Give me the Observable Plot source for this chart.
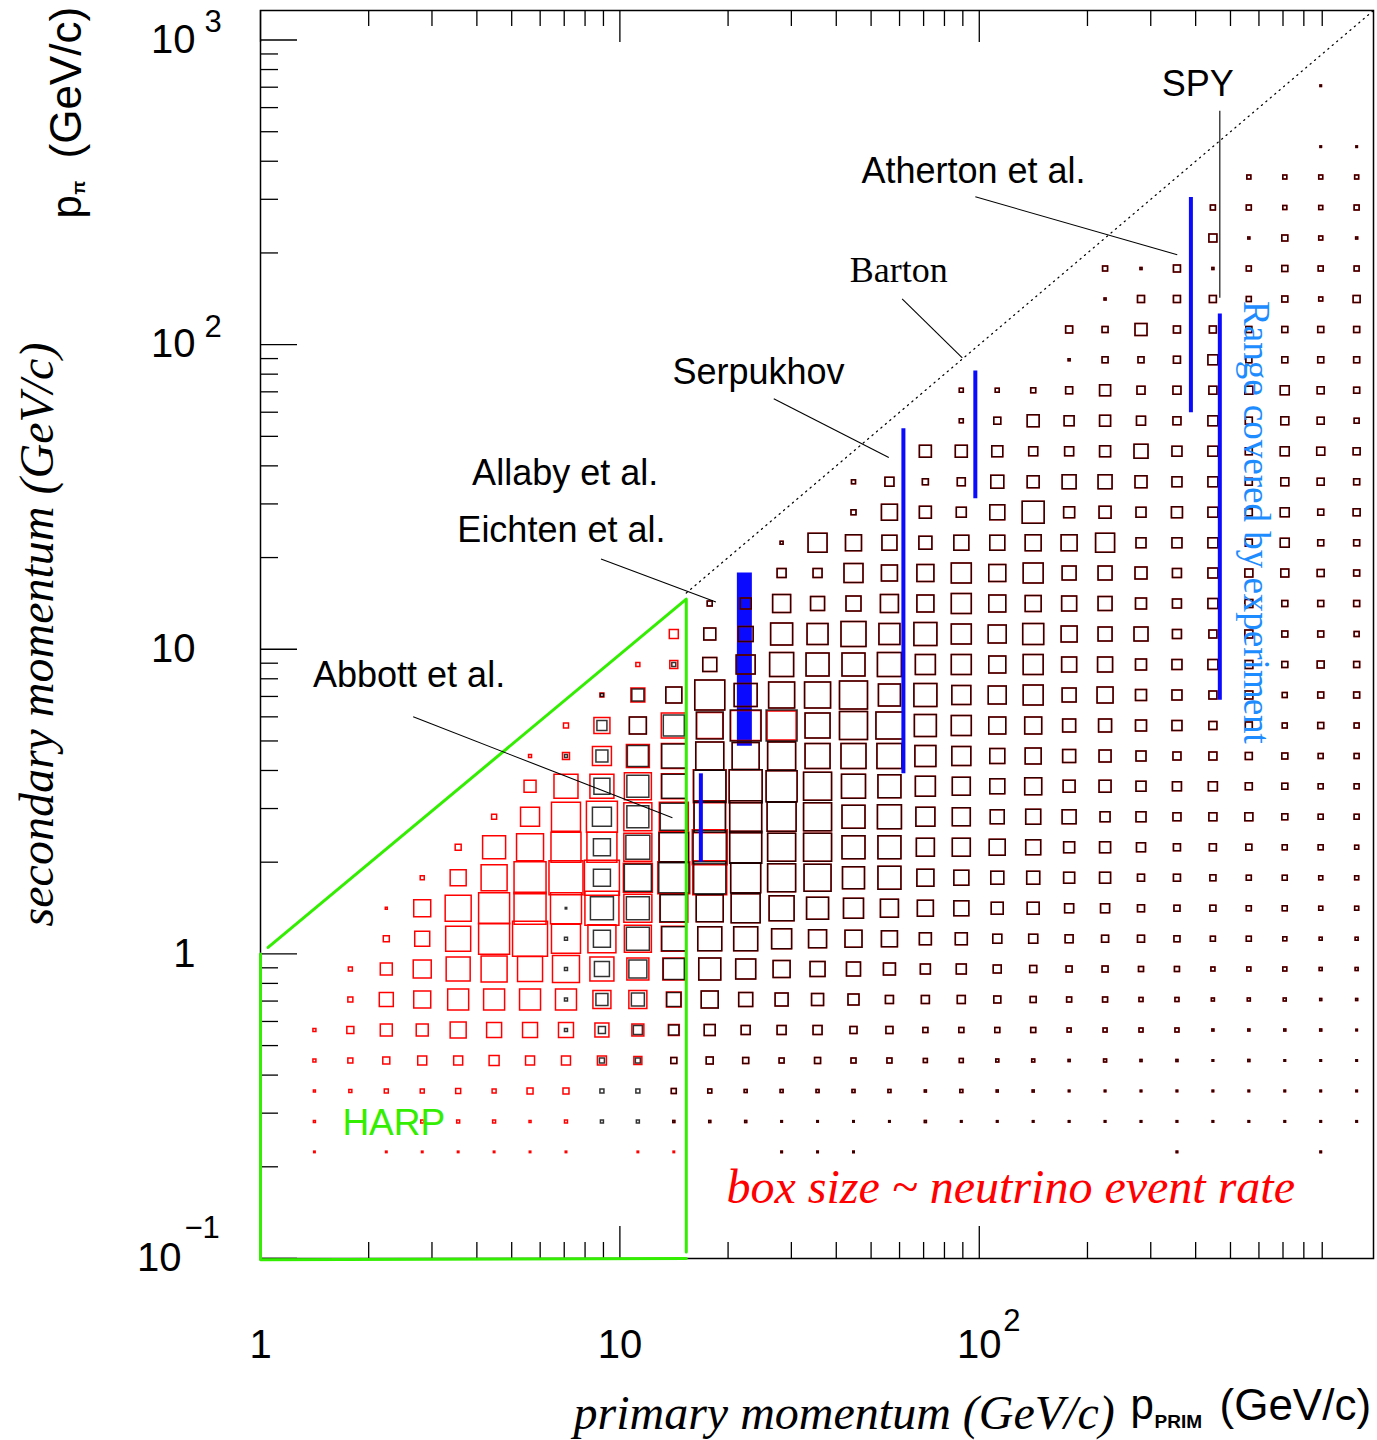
<!DOCTYPE html>
<html><head><meta charset="utf-8">
<script src="https://cdn.jsdelivr.net/npm/d3@7"></script>
<script src="https://cdn.jsdelivr.net/npm/@observablehq/plot@0.6"></script>
<style>html,body{margin:0;padding:0;background:#fff;} #chart svg{display:block;}</style>
</head><body><div id="chart"></div>
<script>
// ---------------- DATA ----------------
// histogram bins: 0.1-decade bins; columns = primary momentum, rows = secondary momentum
const xColumnLog = d3.range(31).map(i => 0.05 + 0.1 * i);   // log10 of bin centres (GeV/c)
const yRowLog = d3.range(36).map(k => -0.65 + 0.1 * k);

// box size (neutrino event rate, arbitrary units); rows k = 0..17 from the bottom, columns i = 0..30
const redLowerRows = [
  "0 1.5 0 1.5 1.5 1.5 1.5 1.5 1.5 0 1.5 | 1.5 0 0 1.5 1.5 1.5 0 0 0 0 | 0 0 0 0 1.5 0 0 0 1.5 0",
  "0 2 0 0 3 3 3 2 3 0 0 | 2 2 2 1.5 1.5 1.5 1.5 2 1.5 1.5 | 1.5 1.5 1.5 1.5 1.5 1.5 1.5 1.5 1.5 1.5",
  "0 2 3 4 4 5 4 6 6 0 0 | 5 4 3 3 3 3 3 2 3 2 | 2 1.5 1.5 1.5 1.5 1.5 1.5 1.5 1.5 1.5",
  "0 3 5 7 9 9 10 9 9 9 8 | 6 7 6 5 6 5 5 4 4 3 | 3 2 3 2 2 1.5 2 1.5 1.5 1.5",
  "0 3 7 12 12 16 15 15 15 14 12 | 11 11 9 9 9 7 7 5 5 5 | 5 4 4 4 4 2 2 2 2 1.5",
  "0 0 5 14 17 21 21 21 21 18 18 | 15 17 14 13 12 11 8 8 8 7 | 6 5 5 4 4 3 3 3 2 2",
  "0 0 4 12 18 24 26 25 27 24 22 | 22 22 20 17 15 14 12 10 10 8 | 7 6 6 5 5 4 4 4 3 3",
  "0 0 0 6 15 25 31 35 29 28 27 | 25 24 24 20 18 17 16 12 12 9 | 9 8 7 7 6 5 5 4 3 3",
  "0 0 0 2 17 26 31 32 31 34 28 | 28 27 29 25 22 20 18 16 15 12 | 12 9 9 7 6 6 5 5 4 4",
  "0 0 0 0 4 16 26 32 34 35 29 | 32 34 30 28 27 22 23 17 15 13 | 13 11 11 7 7 6 5 5 4 4",
  "0 0 0 0 0 6 23 27 30 30 28 | 30 35 32 28 28 23 23 18 18 16 | 15 11 11 9 7 7 6 5 5 4",
  "0 0 0 0 0 0 5 19 29 31 28 | 29 32 32 29 28 23 24 19 18 14 | 15 14 10 10 8 8 8 6 5 5",
  "0 0 0 0 0 0 0 12 24 24 27 | 25 33 33 31 28 24 23 20 18 15 | 17 12 12 10 9 9 7 6 5 5",
  "0 0 0 0 0 0 0 3 7 19 23 | 25 28 27 28 25 25 25 21 19 15 | 16 13 12 10 8 8 7 6 5 5",
  "0 0 0 0 0 0 0 0 5 16 17 | 25 26 30 29 25 28 27 22 20 17 | 17 13 13 11 10 8 7 5 6 5",
  "0 0 0 0 0 0 0 0 0 4 14 | 16 30 23 26 26 28 22 23 19 18 | 20 14 16 11 10 8 8 5 6 6",
  "0 0 0 0 0 0 0 0 0 0 4 | 8 14 19 24 23 23 24 20 20 17 | 20 15 15 11 10 10 8 6 7 6",
  "0 0 0 0 0 0 0 0 0 0 0 | 9 12 15 22 21 25 21 23 20 18 | 21 16 14 14 9 8 8 6 6 5"
];
const blackLowerRows = [
  "0 0 0 0 0 0 0 0 0 0 0 | 0 0 0 1.5 1.5 1.5 0 0 0 0 | 0 0 0 0 1.5 0 0 0 1.5 0",
  "0 0 0 0 0 0 0 0 0 3 3 | 2 2 2 1.5 1.5 1.5 1.5 2 1.5 1.5 | 1.5 1.5 1.5 1.5 1.5 1.5 1.5 1.5 1.5 1.5",
  "0 0 0 0 0 0 0 0 0 4 4 | 5 4 3 3 3 3 3 2 3 2 | 2 1.5 1.5 1.5 1.5 1.5 1.5 1.5 1.5 1.5",
  "0 0 0 0 0 0 0 0 0 5 5 | 6 7 6 5 6 5 5 4 4 3 | 3 2 3 2 2 1.5 2 1.5 1.5 1.5",
  "0 0 0 0 0 0 0 0 3 7 9 | 10 11 9 9 9 7 7 5 5 5 | 5 4 4 4 4 2 2 2 2 1.5",
  "0 0 0 0 0 0 0 0 3 12 13 | 14 17 14 13 12 11 8 8 8 7 | 6 5 5 4 4 3 3 3 2 2",
  "0 0 0 0 0 0 0 0 3 15 18 | 21 22 20 17 15 14 12 10 10 8 | 7 6 6 5 5 4 4 4 3 3",
  "0 0 0 0 0 0 0 0 3 17 23 | 24 24 24 20 18 17 16 12 12 9 | 9 8 7 7 6 5 5 4 3 3",
  "0 0 0 0 0 0 0 0 1.5 23 23 | 27 27 29 25 22 20 18 16 15 12 | 12 9 9 7 6 6 5 5 4 4",
  "0 0 0 0 0 0 0 0 0 17 27 | 30 32 30 28 27 22 23 17 15 13 | 13 11 11 7 7 6 5 5 4 4",
  "0 0 0 0 0 0 0 0 0 17 24 | 29 33 32 28 28 23 23 18 18 16 | 15 11 11 9 7 7 6 5 5 4",
  "0 0 0 0 0 0 0 0 0 19 22 | 27 31 32 29 28 23 24 19 18 14 | 15 14 10 10 8 8 8 6 5 5",
  "0 0 0 0 0 0 0 0 0 16 22 | 24 32 33 31 28 24 23 20 18 15 | 17 12 12 10 9 9 7 6 5 5",
  "0 0 0 0 0 0 0 0 3 12 21 | 24 28 27 28 25 25 25 21 19 15 | 16 13 12 10 8 8 7 6 5 5",
  "0 0 0 0 0 0 0 0 0 10 17 | 21 27 31 31 25 28 27 22 20 17 | 17 13 13 11 10 8 7 5 6 5",
  "0 0 0 0 0 0 0 0 0 3 12 | 16 30 23 26 26 28 22 23 19 18 | 20 14 16 11 10 8 8 5 6 6",
  "0 0 0 0 0 0 0 0 0 0 0 | 4 14 19 24 23 23 24 20 20 17 | 20 15 15 11 10 10 8 6 7 6",
  "0 0 0 0 0 0 0 0 0 0 0 | 0 12 15 22 21 25 21 23 20 18 | 21 16 14 14 9 8 8 6 6 5"
];
// rows k = 18..35: red and black boxes coincide
const sharedUpperRows = [
  "0 0 0 0 0 0 0 0 0 0 0 | 0 5 11 18 14 15 18 17 20 17 | 16 15 14 11 9 10 8 6 6 6",
  "0 0 0 0 0 0 0 0 0 0 0 | 0 0 0 9 9 19 16 17 20 17 | 20 14 14 12 9 10 8 8 7 6",
  "0 0 0 0 0 0 0 0 0 0 0 | 0 0 0 3 19 16 15 13 15 15 | 16 16 19 10 10 10 7 9 6 6",
  "0 0 0 0 0 0 0 0 0 0 0 | 0 0 0 0 0 5 16 12 10 15 | 22 11 12 10 11 10 7 9 6 7",
  "0 0 0 0 0 0 0 0 0 0 0 | 0 0 0 0 0 4 9 6 8 13 | 12 14 14 12 10 10 7 8 7 6",
  "0 0 0 0 0 0 0 0 0 0 0 | 0 0 0 0 0 0 0 12 12 11 | 9 9 11 14 10 10 7 9 8 7",
  "0 0 0 0 0 0 0 0 0 0 0 | 0 0 0 0 0 0 0 0 4 7 | 12 10 11 9 8 10 7 8 7 5",
  "0 0 0 0 0 0 0 0 0 0 0 | 0 0 0 0 0 0 0 0 4 4 | 5 7 11 8 8 8 8 9 7 6",
  "0 0 0 0 0 0 0 0 0 0 0 | 0 0 0 0 0 0 0 0 0 0 | 0 2 6 6 7 10 6 6 6 6",
  "0 0 0 0 0 0 0 0 0 0 0 | 0 0 0 0 0 0 0 0 0 0 | 0 7 6 12 7 7 6 6 6 6",
  "0 0 0 0 0 0 0 0 0 0 0 | 0 0 0 0 0 0 0 0 0 0 | 0 0 2 7 7 7 5 6 4 7",
  "0 0 0 0 0 0 0 0 0 0 0 | 0 0 0 0 0 0 0 0 0 0 | 0 0 5 2 7 2 5 6 5 5",
  "0 0 0 0 0 0 0 0 0 0 0 | 0 0 0 0 0 0 0 0 0 0 | 0 0 0 0 0 8 2 6 4 2",
  "0 0 0 0 0 0 0 0 0 0 0 | 0 0 0 0 0 0 0 0 0 0 | 0 0 0 0 0 5 5 4 4 5",
  "0 0 0 0 0 0 0 0 0 0 0 | 0 0 0 0 0 0 0 0 0 0 | 0 0 0 0 0 0 4 4 4 4",
  "0 0 0 0 0 0 0 0 0 0 0 | 0 0 0 0 0 0 0 0 0 0 | 0 0 0 0 0 0 0 0 1.5 1.5",
  "0 0 0 0 0 0 0 0 0 0 0 | 0 0 0 0 0 0 0 0 0 0 | 0 0 0 0 0 0 0 0 0 0",
  "0 0 0 0 0 0 0 0 0 0 0 | 0 0 0 0 0 0 0 0 0 0 | 0 0 0 0 0 0 0 0 1.5 0"
];

// experiment ranges (blue bars)
const rangeX  = [16.8, 61.5, 97.5, 388, 467];
const rangeY1 = [2.0, 3.9, 31.2, 59.8, 6.8];
const rangeY2 = [3.9, 53, 82, 304, 126];
const thickX = [22.2], thickY1 = [4.8], thickY2 = [17.8];

// HARP acceptance outline
const harpUpperX = [1.05, 15.3, 15.3], harpUpperY = [1.05, 14.6, 0.105];
const harpLowerX = [15.3, 1, 1],       harpLowerY = [0.1, 0.099, 1];

// diagonal p_pi = p_prim
const diagX = [15.3, 1250], diagY = [15.3, 1250];

// leader lines from labels
const leadX1 = [2.66, 8.86, 26.8, 61.0, 97.5, 467];
const leadY1 = [6.0, 19.8, 66.4, 141.4, 305.8, 586];
const leadX2 = [14.0, 18.5, 56.0, 89.7, 355.5, 467];
const leadY2 = [2.80, 14.3, 42.6, 90.5, 197.2, 142.5];

// annotation labels
const labelText = ["SPY", "Atherton et al.", "Serpukhov", "Allaby et al.", "Eichten et al.", "Abbott et al."];
const labelX = [322, 47.0, 14.0, 3.88, 3.53, 1.40];
const labelY = [713, 369, 80.8, 37.9, 24.5, 8.18];

// ticks
const xMajorTicks = [1, 10, 100];
const xMinorTicks = [2,3,4,5,6,7,8,9,20,30,40,50,60,70,80,90,200,300,400,500,600,700,800,900];
const yMajorTicks = [0.1, 1, 10, 100, 1000];
const yMinorTicks = [0.2,0.3,0.4,0.5,0.6,0.7,0.8,0.9,2,3,4,5,6,7,8,9,20,30,40,50,60,70,80,90,200,300,400,500,600,700,800,900];
const xTickPlain = [1, 10], xTickPlainText = ["1", "10"];
const xTickPow = [100], xTickPowExp = ["2"];
const yTickPlain = [1, 10], yTickPlainText = ["1", "10"];
const yTickPow = [100, 1000], yTickPowExp = ["2", "3"];
const yTickNeg = [0.1], yTickNegExp = ["\u22121"];

// ---------------- BUILD ----------------
const parseRow = s => s.replace(/\|/g, " ").trim().split(/\s+/).map(Number);
function cellsFrom(rows, k0) {
  const out = [];
  rows.forEach((row, j) => parseRow(row).forEach((v, i) => {
    if (v > 0) out.push({x: 10 ** xColumnLog[i], y: 10 ** yRowLog[k0 + j], rate: v});
  }));
  return out;
}
const redCells = cellsFrom(redLowerRows, 0).concat(cellsFrom(sharedUpperRows, 18));
const blackCells = cellsFrom(blackLowerRows, 0).concat(cellsFrom(sharedUpperRows, 18));

const zip2 = (xs, ys) => xs.map((x, i) => ({x, y: ys[i]}));
const ranges = rangeX.map((x, i) => ({x, y1: rangeY1[i], y2: rangeY2[i]}));
const thick = thickX.map((x, i) => ({x, y1: thickY1[i], y2: thickY2[i]}));
const leaders = leadX1.map((x1, i) => ({x1, y1: leadY1[i], x2: leadX2[i], y2: leadY2[i]}));
const labels = labelText.map((t, i) => ({t, x: labelX[i], y: labelY[i]}));

const W = 1377, H = 1440, ML = 260, MR = 4, MT = 10, MB = 182;
const plotW = W - ML - MR, plotH = H - MT - MB;
const sans = "'Liberation Sans', Arial, Helvetica, sans-serif";
const serif = "'Liberation Serif', 'Times New Roman', serif";
const blue = "#0a0aff", green = "#33ee00";

const chart = Plot.plot({
  width: W, height: H,
  marginLeft: ML, marginRight: MR, marginTop: MT, marginBottom: MB,
  x: {type: "log", domain: [1, 1250], axis: null},
  y: {type: "log", domain: [0.1, 1250], axis: null},
  r: {type: "linear", domain: [0, 30], range: [0, 30 / Math.sqrt(Math.PI)]},
  style: {background: "white"},
  marks: [
    Plot.ruleX(thick, {x: "x", y1: "y1", y2: "y2", stroke: blue, strokeWidth: 15}),
    Plot.dot(redCells, {x: "x", y: "y", r: "rate", symbol: "square", fill: "none", stroke: "#ff0000", strokeWidth: 1.5}),
    Plot.dot(blackCells, {x: "x", y: "y", r: "rate", symbol: "square", fill: "none", stroke: "#000000", strokeOpacity: 0.8, strokeWidth: 1.5}),
    // frame and ticks (inside the frame)
    Plot.frame({stroke: "black", strokeWidth: 1.5}),
    Plot.tickY(yMajorTicks, {y: d => d, insetRight: plotW - 37, stroke: "black", strokeWidth: 1.3}),
    Plot.tickY(yMinorTicks, {y: d => d, insetRight: plotW - 18, stroke: "black", strokeWidth: 1.3}),
    Plot.tickX(xMajorTicks, {x: d => d, insetTop: plotH - 32, stroke: "black", strokeWidth: 1.3}),
    Plot.tickX(xMinorTicks, {x: d => d, insetTop: plotH - 16, stroke: "black", strokeWidth: 1.3}),
    Plot.tickX(xMajorTicks, {x: d => d, insetBottom: plotH - 32, stroke: "black", strokeWidth: 1.3}),
    Plot.tickX(xMinorTicks, {x: d => d, insetBottom: plotH - 16, stroke: "black", strokeWidth: 1.3}),
    Plot.line(zip2(diagX, diagY), {x: "x", y: "y", stroke: "black", strokeWidth: 1.2, strokeDasharray: "1.2 4.6"}),
    Plot.line(zip2(harpUpperX, harpUpperY), {x: "x", y: "y", stroke: green, strokeWidth: 3}),
    Plot.line(zip2(harpLowerX, harpLowerY), {x: "x", y: "y", stroke: green, strokeWidth: 3}),
    Plot.ruleX(ranges, {x: "x", y1: "y1", y2: "y2", stroke: blue, strokeWidth: 4}),
    Plot.link(leaders, {x1: "x1", y1: "y1", x2: "x2", y2: "y2", stroke: "black", strokeWidth: 1.1}),
    // annotations
    Plot.text(labels, {x: "x", y: "y", text: "t", textAnchor: "start", lineAnchor: "middle", fontFamily: sans, fontSize: 36, fill: "black"}),
    Plot.text(["Barton"], {x: [43.6], y: [174.6], text: d => d, textAnchor: "start", lineAnchor: "middle", fontFamily: serif, fontSize: 36, fill: "black"}),
    Plot.text(["HARP"], {x: [1.69], y: [0.279], text: d => d, textAnchor: "start", lineAnchor: "middle", fontFamily: sans, fontSize: 37, fill: green}),
    Plot.text(["box size ~ neutrino event rate"], {x: [19.8], y: [0.171], text: d => d, textAnchor: "start", lineAnchor: "middle", fontFamily: serif, fontStyle: "italic", fontSize: 48, fill: "#ff0000"}),
    Plot.text(["Range covered by experiment"], {x: [588], y: [139], text: d => d, rotate: 90, textAnchor: "start", lineAnchor: "middle", fontFamily: serif, fontSize: 37, fill: "#1e8cff"}),
    // tick labels
    Plot.text(xTickPlain, {x: d => d, text: (d, i) => xTickPlainText[i], frameAnchor: "bottom", dy: 87, textAnchor: "middle", lineAnchor: "middle", fontFamily: sans, fontSize: 40}),
    Plot.text(xTickPow, {x: d => d, text: () => "10", frameAnchor: "bottom", dy: 87, textAnchor: "middle", lineAnchor: "middle", fontFamily: sans, fontSize: 40}),
    Plot.text(xTickPow, {x: d => d, text: (d, i) => xTickPowExp[i], frameAnchor: "bottom", dx: 24, dy: 63, textAnchor: "start", lineAnchor: "middle", fontFamily: sans, fontSize: 31}),
    Plot.text(yTickPlain, {y: d => d, text: (d, i) => yTickPlainText[i], frameAnchor: "left", dx: -65, textAnchor: "end", lineAnchor: "middle", fontFamily: sans, fontSize: 40}),
    Plot.text(yTickPow, {y: d => d, text: () => "10", frameAnchor: "left", dx: -65, textAnchor: "end", lineAnchor: "middle", fontFamily: sans, fontSize: 40}),
    Plot.text(yTickPow, {y: d => d, text: (d, i) => yTickPowExp[i], frameAnchor: "left", dx: -56, dy: -18, textAnchor: "start", lineAnchor: "middle", fontFamily: sans, fontSize: 31}),
    Plot.text(yTickNeg, {y: d => d, text: () => "10", frameAnchor: "left", dx: -79, textAnchor: "end", lineAnchor: "middle", fontFamily: sans, fontSize: 40}),
    Plot.text(yTickNeg, {y: d => d, text: (d, i) => yTickNegExp[i], frameAnchor: "left", dx: -76, dy: -30, textAnchor: "start", lineAnchor: "middle", fontFamily: sans, fontSize: 31}),
    // axis titles
    Plot.text(["primary momentum (GeV/c)"], {text: d => d, frameAnchor: "bottom-left", dx: 313, dy: 155, textAnchor: "start", lineAnchor: "middle", fontFamily: serif, fontStyle: "italic", fontSize: 48}),
    Plot.text(["p"], {text: d => d, frameAnchor: "bottom-left", dx: 1130 - ML, dy: 1405 - (H - MB), textAnchor: "start", lineAnchor: "middle", fontFamily: sans, fontSize: 42}),
    Plot.text(["PRIM"], {text: d => d, frameAnchor: "bottom-left", dx: 1154 - ML, dy: 1421 - (H - MB), textAnchor: "start", lineAnchor: "middle", fontFamily: sans, fontWeight: "bold", fontSize: 19}),
    Plot.text(["(GeV/c)"], {text: d => d, frameAnchor: "bottom-left", dx: 1219 - ML, dy: 1405 - (H - MB), textAnchor: "start", lineAnchor: "middle", fontFamily: sans, fontSize: 44}),
    Plot.text(["secondary momentum (GeV/c)"], {text: d => d, frameAnchor: "left", dx: 37 - ML, rotate: -90, textAnchor: "middle", lineAnchor: "middle", fontFamily: serif, fontStyle: "italic", fontSize: 48}),
    Plot.text(["p"], {text: d => d, frameAnchor: "top-left", dx: 67 - ML, dy: 218 - MT, rotate: -90, textAnchor: "start", lineAnchor: "middle", fontFamily: sans, fontSize: 42}),
    Plot.text(["\u03c0"], {text: d => d, frameAnchor: "top-left", dx: 79 - ML, dy: 194 - MT, rotate: -90, textAnchor: "start", lineAnchor: "middle", fontFamily: sans, fontWeight: "bold", fontSize: 18}),
    Plot.text(["(GeV/c)"], {text: d => d, frameAnchor: "top-left", dx: 66 - ML, dy: 158 - MT, rotate: -90, textAnchor: "start", lineAnchor: "middle", fontFamily: sans, fontSize: 44})
  ]
});
document.getElementById("chart").appendChild(chart);
</script></body></html>
